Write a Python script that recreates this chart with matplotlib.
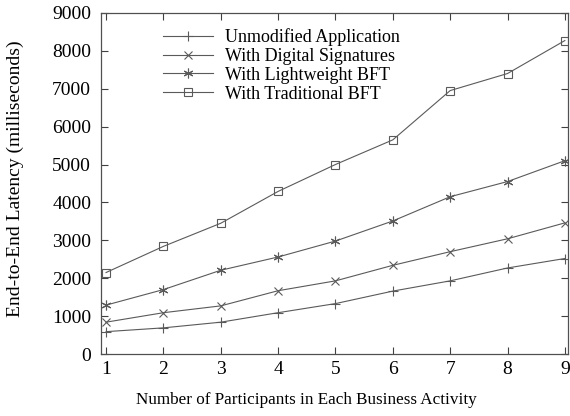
import matplotlib
matplotlib.use("Agg")
from matplotlib import pyplot as plt

participants = [1, 2, 3, 4, 5, 6, 7, 8, 9]
unmodified = [590, 690, 840, 1090, 1330, 1660, 1930, 2270, 2520]
digital_sig = [840, 1090, 1270, 1670, 1930, 2340, 2700, 3040, 3460]
lightweight_bft = [1290, 1700, 2210, 2560, 2980, 3510, 4150, 4550, 5100]
traditional_bft = [2150, 2840, 3450, 4290, 5000, 5650, 6950, 7400, 8270]

labels = ["Unmodified Application", "With Digital Signatures",
          "With Lightweight BFT", "With Traditional BFT"]
markers = ["+", "x", (6, 2, 0), "s"]
msizes = [6.5, 6, 7, 5.5]

plt.rcParams['font.family'] = ['Liberation Serif', 'DejaVu Serif']
plt.rcParams['font.size'] = 13.5

fig = plt.figure(figsize=(5.7, 4.16), dpi=100)
ax = fig.add_axes([0.177, 0.149, 0.819, 0.82])

gray = "#5a5a5a"
series = [unmodified, digital_sig, lightweight_bft, traditional_bft]
for i, ys in enumerate(series):
    ax.plot(participants, ys, color=gray, linewidth=0.8, marker=markers[i],
            markersize=msizes[i], markerfacecolor='none',
            markeredgecolor=gray, markeredgewidth=0.8, label=labels[i])

ax.set_xlim(0.91, 9.05)
ax.set_ylim(0, 9000)
ax.set_xticks(participants)
ax.set_yticks(range(0, 9001, 1000))
ax.tick_params(direction='in', top=True, right=True, length=5, width=0.8,
               colors='#404040', labelcolor='black', labelsize=14)
ax.tick_params(axis='y', pad=7)
ax.tick_params(axis='x', pad=5)
for s in ax.spines.values():
    s.set_color('#505050')
    s.set_linewidth(0.9)

ax.set_xlabel("Number of Participants in Each Business Activity", fontsize=12.3)
ax.xaxis.set_label_coords(0.44, -0.112)
ax.set_ylabel("End-to-End Latency (milliseconds)", fontsize=14)
ax.yaxis.set_label_coords(-0.165, 0.515)

ax.legend(loc='upper left', bbox_to_anchor=(0.133, 0.955), frameon=False,
          fontsize=13, handlelength=2.75, handletextpad=0.7,
          labelspacing=0.1, borderaxespad=0, borderpad=0)

fig.savefig("out.png", dpi=100)
